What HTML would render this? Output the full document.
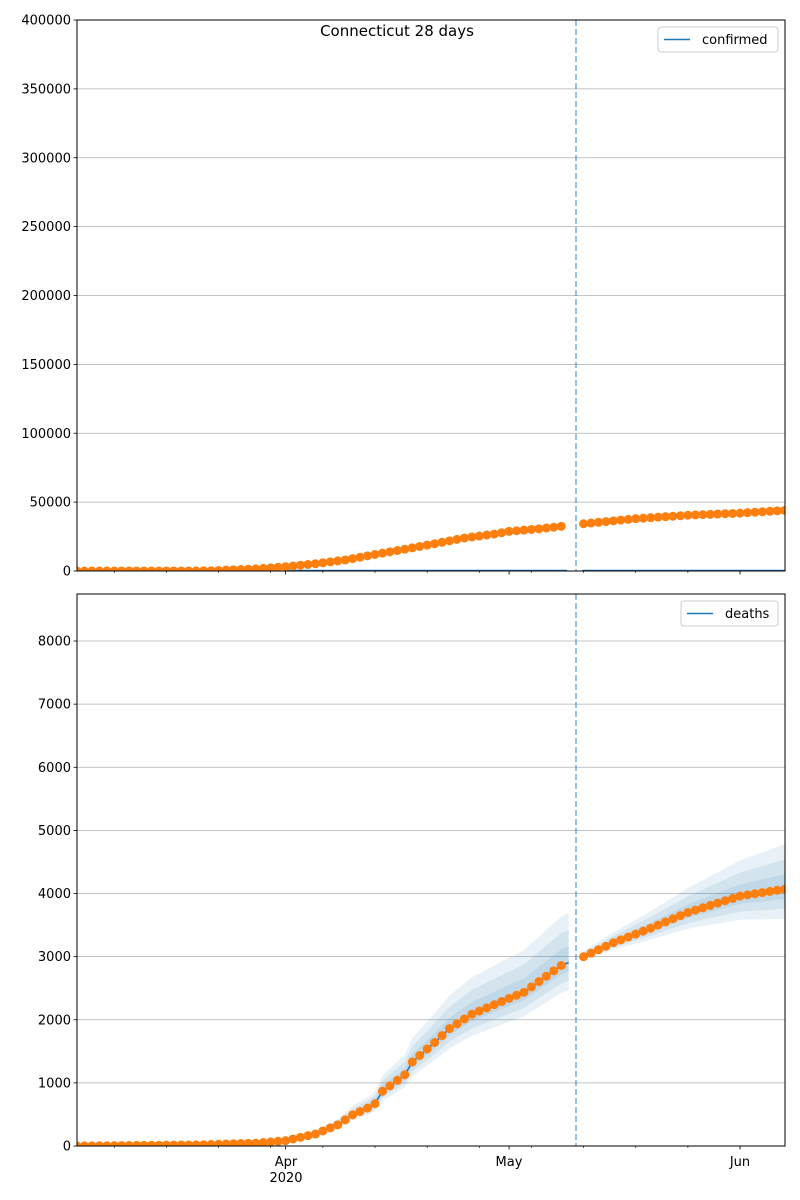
<!DOCTYPE html>
<html><head><meta charset="utf-8"><style>body{margin:0;background:#fff}svg{display:block;font-family:"DejaVu Sans","Liberation Sans",sans-serif}</style></head>
<body>
<svg id="s" width="800" height="1200" xmlns="http://www.w3.org/2000/svg"></svg>
<script>
const s=document.getElementById('s');let h='<defs><clipPath id="c1"><rect x="77" y="20" width="708" height="551"/></clipPath><clipPath id="c2"><rect x="77" y="594" width="708" height="552"/></clipPath></defs>';
const X0=77,X1=785,PX=7.45;const xd=d=>X0+d*PX;
function interp(k,d){for(let i=0;i<k.length-1;i++){if(d<=k[i+1][0]){const t=(d-k[i][0])/(k[i+1][0]-k[i][0]);return k[i][1]+t*(k[i+1][1]-k[i][1]);}}return k[k.length-1][1];}
const conf=[[0,0],[14,10],[18,150],[20,600],[24,1500],[28,3100],[32,5300],[36,8000],[40,12000],[44,15800],[48,19800],[52,24000],[56,26800],[58,28800],[62,30600],[65,32400],[68,34300],[75,38000],[82,40500],[89,42000],[95,44000]];
const dth=[[0,0],[17,19],[21,36],[24,45],[28,85],[32,190],[35,335],[37,494],[39,600],[40,671],[41,868],[44,1127],[45,1330],[48,1639],[50,1860],[53,2089],[58,2339],[60,2436],[65,2860],[68,3000],[72,3220],[77,3450],[82,3700],[89,3960],[95,4070]];
const days=[];for(let d=0;d<=96;d++){if(d==66||d==67)continue;days.push(d);}
function axes(top,bot,ymax,step){
 const yy=v=>bot-(v/ymax)*(bot-top);let g='';
 for(let v=0;v<=ymax+1e-6;v+=step){const y=yy(v);if(v>0)g+=`<line x1="${X0}" x2="${X1}" y1="${y}" y2="${y}" stroke="#b0b0b0" stroke-width="0.8"/>`;
 g+=`<line x1="${X0-3.5}" x2="${X0}" y1="${y}" y2="${y}" stroke="#000" stroke-width="0.8"/><text x="${X0-6}" y="${y+4.5}" font-size="13" text-anchor="end">${v}</text>`;}
 [5,12,19,26,33,40,47,54,61,68,75,82,89,96].forEach(d=>{const x=xd(d);if(x<=X1)g+=`<line x1="${x}" x2="${x}" y1="${bot}" y2="${bot+2}" stroke="#000" stroke-width="0.6"/>`;});
 [28,58,89].forEach(d=>{g+=`<line x1="${xd(d)}" x2="${xd(d)}" y1="${bot}" y2="${bot+3.5}" stroke="#000" stroke-width="0.8"/>`;});
 return [g,yy];}
let [g1,y1]=axes(20,571,400000,50000);h+=g1;
h+='<g clip-path="url(#c1)">';
h+=`<line x1="${xd(28)}" x2="${xd(65.8)}" y1="570.5" y2="570.5" stroke="#1f77b4" stroke-width="1.5"/><line x1="${xd(67.8)}" x2="${X1}" y1="570.5" y2="570.5" stroke="#1f77b4" stroke-width="1.5"/>`;
days.forEach(d=>{h+=`<circle cx="${xd(d)}" cy="${y1(interp(conf,d))}" r="4.5" fill="#ff7f0e"/>`;});
h+='</g>';
h+=`<line x1="576" x2="576" y1="20" y2="571" stroke="#1f77b4" stroke-opacity="0.6" stroke-width="1.5" stroke-dasharray="6,3"/>`;
h+=`<rect x="77" y="20" width="708" height="551" fill="none" stroke="#000" stroke-width="1"/>`;
h+=`<text x="397" y="36" font-size="15" text-anchor="middle">Connecticut 28 days</text>`;
h+=`<rect x="658" y="27" width="120" height="25" rx="3" fill="#fff" stroke="#ccc"/><line x1="664" x2="690" y1="39.5" y2="39.5" stroke="#1f77b4" stroke-width="1.5"/><text x="702" y="44" font-size="13">confirmed</text>`;
let [g2,y2]=axes(594,1146,8745,1000);h+=g2;
h+='<g clip-path="url(#c2)">';
function band(a,b,u0,u1,l0,l1){[1,0.66,0.33].forEach(f=>{let up=[],dn=[];for(let d=a;d<=b;d+=0.5){const t=(d-a)/(b-a);const wu=(u0+(u1-u0)*t)*f,wl=(l0+(l1-l0)*t)*f;const v=interp(dth,d);up.push(xd(d)+','+y2(v*(1+wu)));dn.unshift(xd(d)+','+y2(v*(1-wl)));}h+=`<polygon points="${up.join(' ')} ${dn.join(' ')}" fill="#1f77b4" fill-opacity="0.1"/>`;});}
band(22,66,0.3,0.27,0.2,0.15);band(68,96,0.03,0.18,0.02,0.12);
let pl=[];for(let d=24;d<=66;d+=0.5)pl.push(xd(d)+','+y2(interp(dth,d)));h+=`<polyline points="${pl.join(' ')}" fill="none" stroke="#1f77b4" stroke-width="1.5"/>`;
pl=[];for(let d=68;d<=96;d+=0.5)pl.push(xd(d)+','+y2(interp(dth,d)));h+=`<polyline points="${pl.join(' ')}" fill="none" stroke="#1f77b4" stroke-width="1.5"/>`;
days.forEach(d=>{h+=`<circle cx="${xd(d)}" cy="${y2(interp(dth,d))}" r="4.5" fill="#ff7f0e"/>`;});
h+='</g>';
h+=`<line x1="576" x2="576" y1="594" y2="1146" stroke="#1f77b4" stroke-opacity="0.6" stroke-width="1.5" stroke-dasharray="6,3"/>`;
h+=`<rect x="77" y="594" width="708" height="552" fill="none" stroke="#000" stroke-width="1"/>`;
h+=`<rect x="681" y="601" width="97" height="25" rx="3" fill="#fff" stroke="#ccc"/><line x1="687" x2="713" y1="613.5" y2="613.5" stroke="#1f77b4" stroke-width="1.5"/><text x="725" y="618" font-size="13">deaths</text>`;
h+=`<text x="286" y="1166" font-size="13" text-anchor="middle">Apr</text><text x="286" y="1182" font-size="13" text-anchor="middle">2020</text><text x="509" y="1166" font-size="13" text-anchor="middle">May</text><text x="740" y="1166" font-size="13" text-anchor="middle">Jun</text>`;
s.innerHTML=h;
</script>
</body></html>
